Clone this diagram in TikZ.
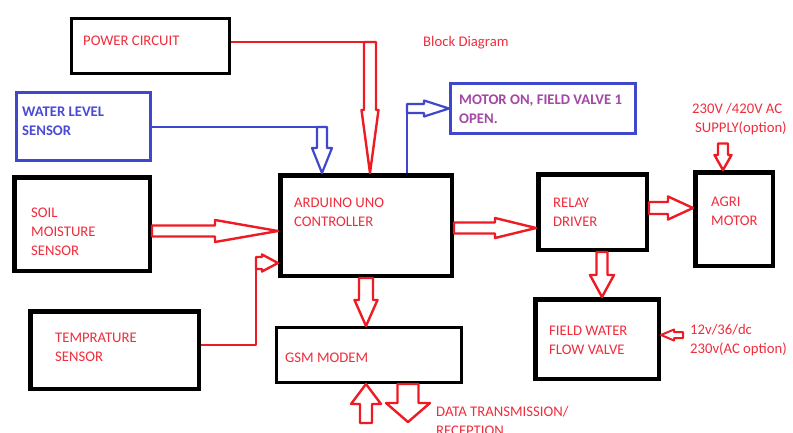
\documentclass[tikz,border=0pt]{standalone}
\usepackage{fontspec}
\setmainfont{Carlito}
\usetikzlibrary{calc}

\definecolor{paintred}{RGB}{237,28,36}
\definecolor{paintblue}{RGB}{63,72,204}
\definecolor{txtred}{RGB}{240,45,60}
\definecolor{txtblue}{RGB}{75,75,215}
\definecolor{txtpurple}{RGB}{163,73,164}

% hollow block arrow: [style]{from}{tip}{shaft half width}{head half width}{head length}
\newcommand{\hollowarrow}[6][redline]{%
	\draw[#1] let \p1=(#2), \p2=(#3), \n1={atan2(\y2-\y1,\x2-\x1)}, \p3=($(\p2)+(\n1+180:#6pt)$) in
		($(\p1)+(\n1+90:#4pt)$) -- ($(\p3)+(\n1+90:#4pt)$) -- ($(\p3)+(\n1+90:#5pt)$) -- (\p2)
		-- ($(\p3)+(\n1-90:#5pt)$) -- ($(\p3)+(\n1-90:#4pt)$) -- ($(\p1)+(\n1-90:#4pt)$) -- cycle;}

\begin{document}
\begin{tikzpicture}[x=1pt, y=-1pt,
	every node/.style={font=\fontsize{14.7}{19}\selectfont},
	box/.style={draw=black, line width=4.5pt, inner sep=0pt},
	bluebox/.style={draw=paintblue, line width=3pt, inner sep=0pt},
	txt/.style={text=txtred, align=left, anchor=west, inner sep=0pt},
	boldtxt/.style={txt, font=\fontsize{14.7}{19}\selectfont\bfseries},
	redline/.style={draw=paintred, line width=2.4pt, line join=round},
	blueline/.style={draw=paintblue, line width=2.2pt, line join=round}]
	\useasboundingbox[fill=white] (0,0) rectangle (793,432);

	% blocks
	\node[box, line width=3.2pt, minimum width=158pt, minimum height=55pt] (power) at (150.5,46) {};
	\node[bluebox, minimum width=134pt, minimum height=68pt] (water) at (83.5,126.5) {};
	\node[box, minimum width=135.5pt, minimum height=93.5pt] (soil) at (82,224) {};
	\node[box, minimum width=168.5pt, minimum height=77.5pt] (temp) at (114.5,350) {};
	\node[box, minimum width=171.5pt, minimum height=100.5pt] (ard) at (366,225.5) {};
	\node[box, line width=2.7pt, minimum width=185.3pt, minimum height=55.3pt] (gsm) at (369,355) {};
	\node[box, minimum width=108.5pt, minimum height=75.5pt] (relay) at (592.5,212) {};
	\node[box, minimum width=77.5pt, minimum height=93.5pt] (agri) at (734,219) {};
	\node[box, minimum width=123.5pt, minimum height=79.5pt] (valve) at (597,339) {};
	\node[bluebox, minimum width=185pt, minimum height=50pt] (motor) at (543,108.5) {};

	% texts
	\node[txt] (powertxt) at (83,41) {POWER CIRCUIT};
	\node[boldtxt, text=txtblue] (watertxt) at (22,121.5) {WATER LEVEL\\SENSOR};
	\node[txt] (soiltxt) at (31,231.5) {SOIL\\MOISTURE\\SENSOR};
	\node[txt] (temptxt) at (55,347.5) {TEMPRATURE\\SENSOR};
	\node[txt] (ardtxt) at (294,212.5) {ARDUINO UNO\\CONTROLLER};
	\node[txt] (gsmtxt) at (285,358) {GSM MODEM};
	\node[txt] (relaytxt) at (553,212) {RELAY\\DRIVER};
	\node[txt] (agritxt) at (711,211.5) {AGRI\\MOTOR};
	\node[txt] (valvetxt) at (549,340.5) {FIELD WATER\\FLOW VALVE};
	\node[boldtxt, text=txtpurple] (motortxt) at (459,109.5) {MOTOR ON, FIELD VALVE 1\\OPEN.};
	\node[txt] (title) at (423,43) {Block Diagram};
	\node[txt] (supply) at (692,119.5) {230V /420V AC\\\hspace{3pt}SUPPLY(option)};
	\node[txt] (volt) at (690,340) {12v/36/dc\\230v(AC option)};
	\node[txt] (data) at (436,420.5) {DATA TRANSMISSION/\\RECEPTION};

	% power feed
	\coordinate (pwrdrop) at (370,42);
	\draw[redline] (power.east |- pwrdrop) -- ([xshift=-6pt]pwrdrop);
	\hollowarrow{pwrdrop}{ard.north -| pwrdrop}{6}{8.5}{63}

	% water level feed
	\coordinate (wldrop) at (322,127);
	\draw[blueline] (water.east |- wldrop) -- ([xshift=-5pt]wldrop);
	\hollowarrow[blueline]{wldrop}{ard.north -| wldrop}{5}{10}{25}

	% status output
	\coordinate (mturn) at (407,108.5);
	\draw[blueline] (ard.north -| mturn) -- (mturn);
	\hollowarrow[blueline]{mturn}{motor.west |- mturn}{4.5}{8}{25}

	% sensors
	\hollowarrow{[yshift=-7pt]soil.east}{[yshift=-5.5pt]ard.west}{5.5}{11}{63}
	\coordinate (tturn) at (256,263);
	\draw[redline] ([yshift=5pt]temp.east) -| ([yshift=-6pt]tturn);
	\hollowarrow{tturn}{ard.west |- tturn}{6}{8.5}{16}

	% gsm
	\hollowarrow{ard.south}{ard.south |- gsm.north}{7}{11.5}{26}
	\coordinate (gsmin) at (366,423);
	\hollowarrow{gsmin}{gsm.south -| gsmin}{6}{15}{20}
	\coordinate (gsmout) at (408,422);
	\hollowarrow{gsm.south -| gsmout}{gsmout}{10.5}{22}{19}

	% relay and loads
	\hollowarrow{[yshift=-2.5pt]ard.east}{[yshift=-16pt]relay.west}{5.5}{10}{41}
	\hollowarrow{[yshift=4pt]relay.east}{[yshift=11pt]agri.west}{6}{11.5}{25}
	\hollowarrow{[xshift=9.5pt]relay.south}{[xshift=5pt]valve.north}{5.5}{12}{22}
	\coordinate (agrifeed) at ([xshift=-11pt]agri.north);
	\coordinate (supplyout) at ([yshift=-8pt]supply.south);
	\hollowarrow{supplyout -| agrifeed}{agrifeed}{5}{8.5}{15}
	\coordinate (vfeed) at (683,335);
	\hollowarrow[redline, line width=2pt]{vfeed}{valve.east |- vfeed}{3}{5.5}{13}
\end{tikzpicture}
\end{document}
